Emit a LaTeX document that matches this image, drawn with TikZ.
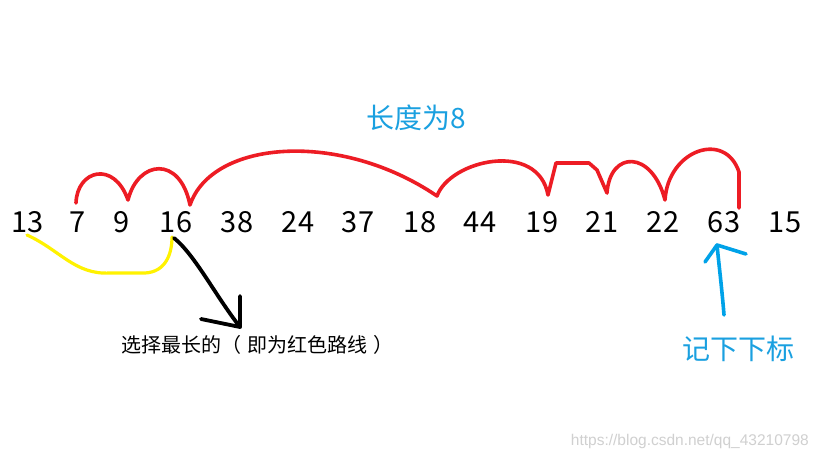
\documentclass[tikz,border=0pt]{standalone}
\usepackage{fontspec}
\setmainfont{Noto Sans CJK SC}
\newfontfamily\wmfont{Liberation Sans}
\definecolor{pred}{HTML}{ED1C24}
\definecolor{pyel}{HTML}{FFF200}
\definecolor{pblue}{HTML}{00A2E8}
\definecolor{tblue}{HTML}{1AA0E0}
\definecolor{wmgrey}{HTML}{D0D0D0}
\begin{document}
\begin{tikzpicture}[x=1pt,y=-1pt,
  num/.style={font=\fontsize{29}{29}\selectfont, inner sep=0pt, anchor=base},
  redline/.style={draw=pred, line width=3.6pt, line cap=round, line join=round},
  yelline/.style={draw=pyel, line width=3.2pt, line cap=round, line join=round},
  blkline/.style={draw=black, line width=3.8pt, line cap=round, line join=round},
  blueline/.style={draw=pblue, line width=3.6pt, line cap=round, line join=round}]
\useasboundingbox (0,0) rectangle (819,460);
\fill[white] (0,0) rectangle (819,460);

% numbers
\node[num] (n1)  at (27.5,232) {13};
\node[num] (n2)  at (78,232)   {7};
\node[num] (n3)  at (122,232)  {9};
\node[num] (n4)  at (176,232)  {16};
\node[num] (n5)  at (237,232)  {38};
\node[num] (n6)  at (298,232)  {24};
\node[num] (n7)  at (358,232)  {37};
\node[num] (n8)  at (420,232)  {18};
\node[num] (n9)  at (480,232)  {44};
\node[num] (n10) at (542,232)  {19};
\node[num] (n11) at (602,232)  {21};
\node[num] (n12) at (663,232)  {22};
\node[num] (n13) at (724,232)  {63};
\node[num] (n14) at (785,232)  {15};

% labels
\node[font=\fontsize{28}{28}\selectfont, text=tblue, inner sep=0pt, anchor=base] (len) at (416,128) {长度为8};
\node[font=\fontsize{20}{20}\selectfont, inner sep=0pt, anchor=base] (pick) at (257,352) {选择最长的（\hspace{6pt}即为红色路线\hspace{6pt}）};
\node[font=\fontsize{28}{28}\selectfont, text=tblue, inner sep=0pt, anchor=base] (mark) at (738,359) {记下下标};
\node[font=\wmfont\fontsize{15.5}{15.5}\selectfont, text=wmgrey, inner sep=0pt, anchor=base east] (wm) at (809,445) {https://blog.csdn.net/qq\_43210798};

% red path anchor points
\coordinate (r1) at (76,203);
\coordinate (r2) at (128,200);
\coordinate (r3) at (190,205);
\coordinate (r4) at (437,196);
\coordinate (r5) at (548,195);
\coordinate (r6) at (607,193);
\coordinate (r7) at (665,200);
\coordinate (r8) at (739,172);
\coordinate (r9) at (739,208);

\draw[redline] (r1) .. controls (77,170) and (114,160) .. (r2)
  .. controls (138,160) and (180,155) .. (r3)
  .. controls (212,140) and (340,130) .. (r4)
  .. controls (450,160) and (538,140) .. (r5)
  -- (556,163) -- (589,163) -- (597,170) -- (r6)
  .. controls (610,150) and (652,150) .. (r7)
  .. controls (668,150) and (725,130) .. (r8) -- (r9);

% yellow curve
\coordinate (y1) at (27,235);
\coordinate (y2) at (172,237);
\draw[yelline] (y1) .. controls (60,250) and (75,275) .. (110,273) -- (145,273)
  .. controls (165,272) and (172,255) .. (y2);

% black arrow
\coordinate (b1) at (174,238);
\coordinate (b2) at (240,327);
\draw[blkline] (b1) .. controls (195,255) and (215,295) .. (b2);
\draw[blkline] (240,296) -- (b2) -- (201,319);

% blue arrow
\coordinate (u1) at (724,315);
\coordinate (u2) at (717,245);
\draw[blueline] (u1) .. controls (722,290) and (719,265) .. (u2);
\draw[blueline] (705,262) -- (u2) -- (746,254);
\end{tikzpicture}
\end{document}
